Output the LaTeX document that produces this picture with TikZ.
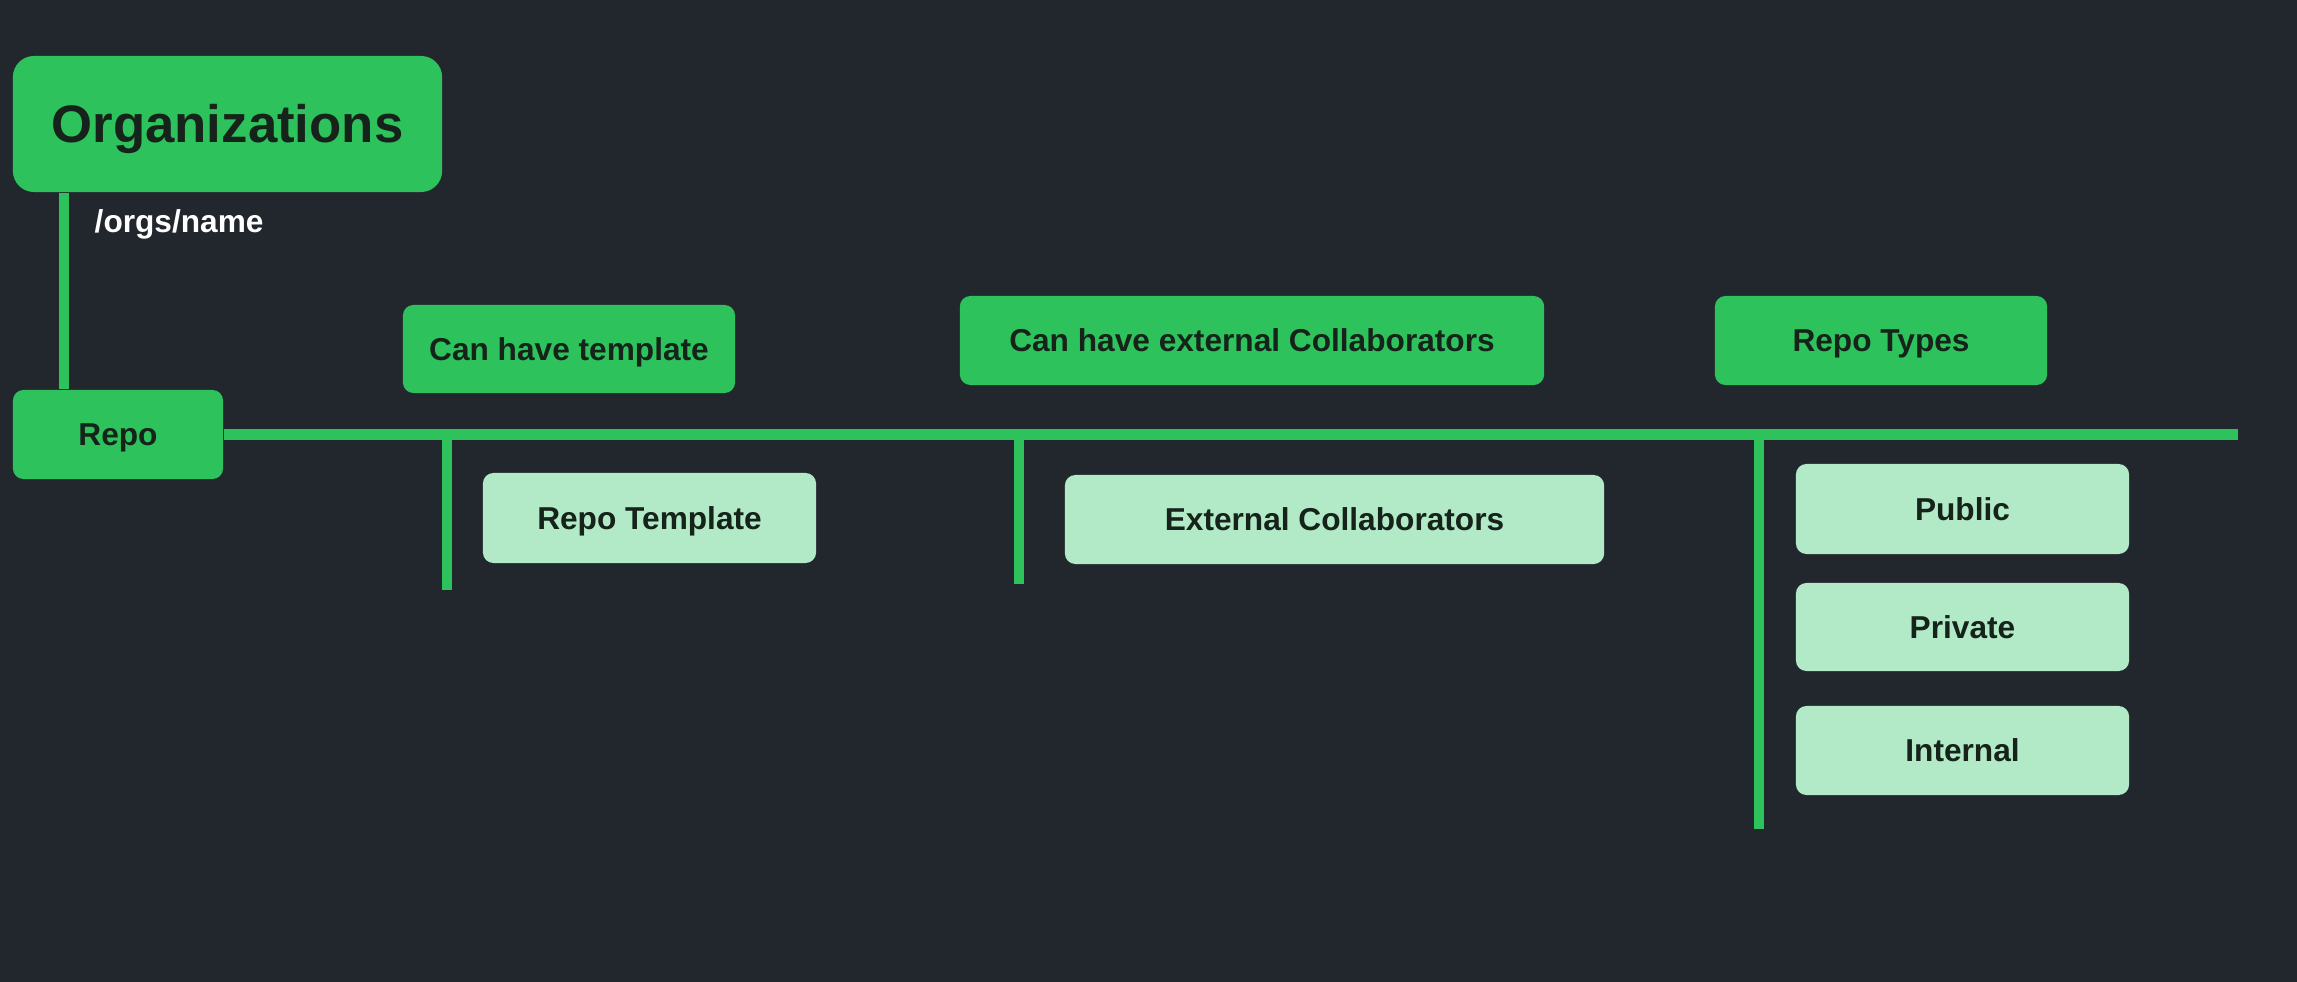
\documentclass[tikz,border=0pt]{standalone}
\usepackage{fontspec}
\setmainfont{Liberation Sans}
\definecolor{bg}{HTML}{22272E}
\definecolor{grn}{HTML}{2EC25D}
\definecolor{lgrn}{HTML}{B2E9C6}
\definecolor{txt}{HTML}{15231A}
\tikzset{
  box/.style={rounded corners=3pt, fill=grn, text=txt, inner sep=0pt,
    text height=6.45pt, text depth=0pt,
    font=\bfseries\fontsize{9}{11}\selectfont},
  lbox/.style={box, fill=lgrn},
  conn/.style={draw=grn, line width=3.1pt},
}
\begin{document}
\begin{tikzpicture}[x=0.01cm, y=-0.01cm]
\fill[bg] (0,0) rectangle (2297,982);
\useasboundingbox (0,0) rectangle (2297,982);

% nodes
\node[box, rounded corners=6pt, minimum width=4.29cm, minimum height=1.36cm,
  text height=10.74pt, font=\bfseries\fontsize{15}{18}\selectfont] (org) at (227.5,124) {Organizations};
\node[anchor=west, text=white, inner sep=0pt, font=\bfseries\fontsize{9}{11}\selectfont]
  (path) at (94,224) {/orgs/name};
\node[box, minimum width=2.10cm, minimum height=0.89cm] (repo) at (118,434.5) {Repo};

\node[box, minimum width=3.32cm, minimum height=0.88cm] (tmpl) at (569,349) {Can have template};
\node[box, minimum width=5.84cm, minimum height=0.89cm] (ext) at (1252,340.5) {Can have external Collaborators};
\node[box, minimum width=3.32cm, minimum height=0.89cm] (types) at (1881,340.5) {Repo Types};

\node[lbox, minimum width=3.33cm, minimum height=0.90cm] (rtmpl) at (649.5,518) {Repo Template};
\node[lbox, minimum width=5.39cm, minimum height=0.89cm] (extc) at (1334.5,519.5) {External Collaborators};
\node[lbox, minimum width=3.33cm, minimum height=0.90cm] (public) at (1962.5,509) {Public};
\node[lbox, minimum width=3.33cm, minimum height=0.88cm] (private) at (1962.5,627) {Private};
\node[lbox, minimum width=3.33cm, minimum height=0.89cm] (internal) at (1962.5,750.5) {Internal};

% connector coordinates
\coordinate (ox) at (64,0);
\coordinate (hend) at (2238,434.5);
\coordinate (v1t) at (447,434.5);
\coordinate (v1b) at (447,590);
\coordinate (v2t) at (1019,434.5);
\coordinate (v2b) at (1019,584);
\coordinate (v3t) at (1759,434.5);
\coordinate (v3b) at (1759,829);

% connectors
\draw[conn] (org.south -| ox) -- (repo.north -| ox);
\draw[conn] (repo.east) -- (hend);
\draw[conn] (v1t) -- (v1b);
\draw[conn] (v2t) -- (v2b);
\draw[conn] (v3t) -- (v3b);
\end{tikzpicture}
\end{document}
